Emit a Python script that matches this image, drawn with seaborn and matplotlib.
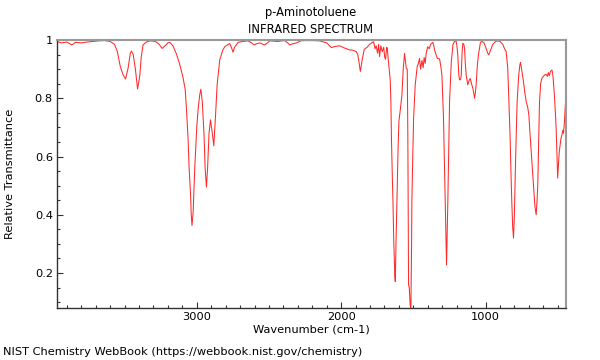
import pandas as pd
import matplotlib
matplotlib.use("Agg")
import matplotlib.pyplot as plt
import seaborn as sns
from matplotlib.ticker import MultipleLocator, FuncFormatter

# --- spectrum (wavenumber cm-1, relative transmittance) ---
wavenumber = [
    3968, 3940, 3900, 3865, 3840, 3800, 3760, 3720, 3680, 3640, 3600, 3570, 3550, 3530, 3510,
    3493, 3475, 3460, 3452, 3440, 3425, 3410, 3400, 3394, 3385, 3372, 3350, 3325, 3300, 3279,
    3260, 3240, 3220, 3200, 3187, 3165, 3140, 3120, 3095, 3080, 3071, 3060, 3053, 3044, 3038,
    3033, 3025, 3014, 3000, 2991, 2980, 2972, 2962, 2950, 2942, 2933, 2925, 2915, 2905, 2895,
    2882, 2870, 2859, 2841, 2820, 2806, 2772, 2760, 2749, 2738, 2714, 2680, 2645, 2620, 2603,
    2580, 2562, 2545, 2529, 2510, 2495, 2470, 2437, 2410, 2391, 2370, 2356, 2335, 2310, 2280,
    2253, 2200, 2149, 2100, 2068, 2040, 2010, 1975, 1941, 1920, 1895, 1885, 1877, 1867, 1855,
    1840, 1820, 1803, 1790, 1775, 1765, 1757, 1748, 1740, 1734, 1725, 1715, 1705, 1698, 1692,
    1685, 1680, 1675, 1669, 1660, 1655, 1652, 1645, 1641, 1635, 1628, 1625, 1620, 1614, 1606,
    1600, 1589, 1579, 1570, 1561, 1555, 1549, 1542, 1538, 1533, 1528, 1522, 1517, 1512, 1510,
    1504, 1498, 1487, 1473, 1465, 1457, 1450, 1440, 1432, 1425, 1418, 1411, 1400, 1390, 1380,
    1365, 1358, 1353, 1334, 1318, 1310, 1302, 1291, 1279, 1270, 1261, 1249, 1237, 1225, 1215,
    1204, 1198, 1192, 1185, 1180, 1172, 1168, 1162, 1157, 1150, 1145, 1140, 1134, 1123, 1115,
    1106, 1097, 1088, 1082, 1076, 1070, 1065, 1057, 1049, 1035, 1024, 1010, 995, 985, 977,
    965, 950, 930, 915, 900, 880, 869, 857, 846, 839, 830, 824, 818, 812, 806,
    800, 793, 786, 781, 770, 762, 758, 750, 737, 728, 718, 708, 700, 692, 684,
    676, 668, 658, 649, 643, 638, 632, 626, 618, 610, 600, 590, 580, 572, 565,
    558, 550, 540, 535, 530, 523, 516, 511, 505, 500, 494, 489, 483, 477, 470,
    465, 460, 453, 447,
]
transmittance = [
    0.995, 0.990, 0.993, 0.983, 0.992, 0.990, 0.993, 0.995, 0.997, 0.998, 0.995, 0.985, 0.960, 0.910, 0.880,
    0.866, 0.905, 0.955, 0.962, 0.950, 0.900, 0.832, 0.860, 0.880, 0.940, 0.983, 0.993, 0.997, 0.996, 0.993,
    0.985, 0.971, 0.980, 0.990, 0.992, 0.980, 0.951, 0.920, 0.871, 0.830, 0.760, 0.660, 0.560, 0.480, 0.400,
    0.363, 0.410, 0.560, 0.700, 0.760, 0.810, 0.831, 0.790, 0.680, 0.560, 0.495, 0.560, 0.680, 0.726, 0.690,
    0.637, 0.740, 0.846, 0.931, 0.965, 0.977, 0.988, 0.975, 0.958, 0.975, 0.992, 0.995, 0.997, 0.990, 0.983,
    0.988, 0.990, 0.986, 0.983, 0.990, 0.997, 0.996, 0.995, 0.997, 0.998, 0.990, 0.983, 0.987, 0.990, 0.997,
    0.998, 0.998, 0.997, 0.990, 0.974, 0.978, 0.980, 0.972, 0.966, 0.965, 0.960, 0.950, 0.926, 0.892, 0.930,
    0.968, 0.975, 0.985, 0.990, 0.994, 0.970, 0.980, 0.955, 0.985, 0.943, 0.980, 0.960, 0.975, 0.940, 0.934,
    0.975, 0.972, 0.940, 0.909, 0.863, 0.780, 0.674, 0.520, 0.445, 0.300, 0.190, 0.171, 0.300, 0.445, 0.620,
    0.720, 0.766, 0.811, 0.900, 0.954, 0.930, 0.903, 0.900, 0.674, 0.160, 0.150, 0.090, 0.075, 0.300, 0.445,
    0.600, 0.731, 0.846, 0.909, 0.920, 0.937, 0.900, 0.930, 0.905, 0.940, 0.920, 0.954, 0.977, 0.970, 0.985,
    0.992, 0.980, 0.966, 0.937, 0.935, 0.910, 0.880, 0.731, 0.445, 0.228, 0.445, 0.788, 0.926, 0.985, 0.995,
    0.997, 0.980, 0.949, 0.880, 0.863, 0.865, 0.880, 0.960, 0.989, 0.985, 0.970, 0.920, 0.880, 0.846, 0.860,
    0.868, 0.850, 0.835, 0.820, 0.800, 0.820, 0.846, 0.910, 0.949, 0.992, 0.995, 0.990, 0.970, 0.955, 0.949,
    0.965, 0.985, 0.995, 0.997, 0.995, 0.985, 0.971, 0.960, 0.903, 0.800, 0.674, 0.550, 0.445, 0.360, 0.320,
    0.400, 0.560, 0.700, 0.788, 0.880, 0.915, 0.923, 0.900, 0.857, 0.820, 0.788, 0.770, 0.743, 0.680, 0.617,
    0.560, 0.503, 0.430, 0.400, 0.450, 0.503, 0.650, 0.788, 0.850, 0.868, 0.875, 0.880, 0.882, 0.875, 0.888,
    0.878, 0.892, 0.897, 0.885, 0.860, 0.811, 0.750, 0.697, 0.600, 0.526, 0.580, 0.617, 0.640, 0.663, 0.675,
    0.690, 0.680, 0.720, 0.780,
]

spec = pd.DataFrame({"wn": wavenumber, "T": transmittance})

plt.rcParams["font.family"] = ["DejaVu Sans"]
plt.rcParams["font.size"] = 8

fig = plt.figure(figsize=(6, 3.6), dpi=100)
ax = fig.add_axes([0.095, 0.1444, 0.8475, 0.7445])

sns.lineplot(data=spec, x="wn", y="T", color="#ff2a2a", linewidth=0.75, ax=ax)

ax.set_xlim(3968, 446)
ax.set_ylim(0.08, 1.0)
ax.xaxis.set_major_locator(MultipleLocator(1000))
ax.xaxis.set_minor_locator(MultipleLocator(100))
ax.yaxis.set_major_locator(MultipleLocator(0.2))
ax.yaxis.set_minor_locator(MultipleLocator(0.05))
ax.yaxis.set_major_formatter(FuncFormatter(lambda v, p: f"{v:g}"))

ax.tick_params(which="major", direction="in", length=4, width=0.8, color="#333333", labelsize=8.2, pad=3)
ax.tick_params(which="minor", direction="in", length=2.2, width=0.8, color="#333333")
ax.tick_params(top=False, right=False, which="both")

for side in ["left", "bottom"]:
    ax.spines[side].set_color("#333333")
    ax.spines[side].set_linewidth(1)
for side in ["top", "right"]:
    ax.spines[side].set_color("#999999")
    ax.spines[side].set_linewidth(1.5)

ax.set_xlabel("Wavenumber (cm-1)", fontsize=8.2, labelpad=2)
ax.set_ylabel("")
fig.text(0.017, 0.517, "Relative Transmittance", rotation=90, ha="center", va="center", fontsize=8.2)

fig.text(0.518, 0.964, "p-Aminotoluene", ha="center", va="center", fontsize=8.3)
fig.text(0.518, 0.917, "INFRARED SPECTRUM", ha="center", va="center", fontsize=8.3)
fig.text(0.005, 0.022, "NIST Chemistry WebBook (https://webbook.nist.gov/chemistry)", ha="left", va="center", fontsize=8.2)

plt.savefig("out.png", dpi=100)
